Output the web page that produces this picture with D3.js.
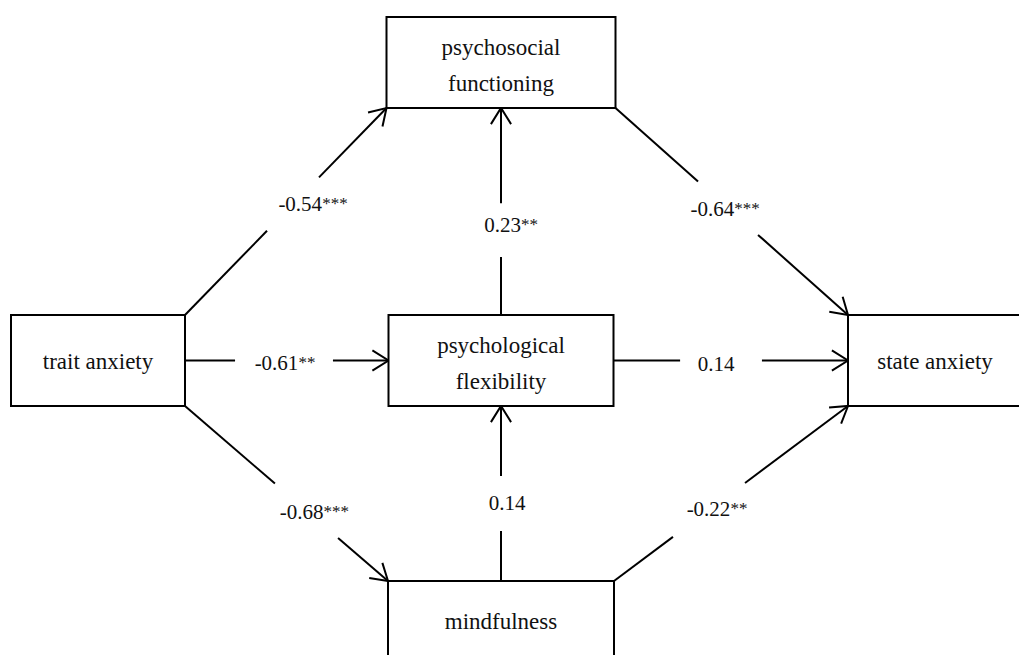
<!DOCTYPE html>
<html>
<head>
<meta charset="utf-8">
<script src="https://cdn.jsdelivr.net/npm/d3@7"></script>
<style>
	body { margin: 0; background: #fff; }
	#chart { width: 1019px; height: 655px; }
	.box { fill: #fff; stroke: #000; stroke-width: 2px; }
	.edge { stroke: #000; stroke-width: 2px; fill: none; stroke-linecap: butt; }
	.nodeLabel { font-family: "Liberation Serif", "Times New Roman", serif; font-size: 23px; fill: #111; }
	.coef { font-family: "Liberation Serif", "Times New Roman", serif; font-size: 21px; fill: #111; }
	.stars { font-size: 17px; }
</style>
</head>
<body>
<div id="chart"></div>
<script>

// model variables
var nodeIds = ["trait", "psychosocial", "flexibility", "state", "mindfulness"];
var nodeLines = [
	["trait anxiety"],
	["psychosocial", "functioning"],
	["psychological", "flexibility"],
	["state anxiety"],
	["mindfulness"]
];

// paths (standardised coefficients)
var edgeFrom = ["trait", "flexibility", "psychosocial", "trait", "flexibility", "trait", "mindfulness", "mindfulness"];
var edgeTo = ["psychosocial", "psychosocial", "state", "flexibility", "state", "mindfulness", "flexibility", "state"];
var edgeCoef = [-0.54, 0.23, -0.64, -0.61, 0.14, -0.68, 0.14, -0.22];
var edgeSig = ["***", "**", "***", "**", "", "***", "", "**"];

var columns = ["left", "mid", "right"];
var rows = ["top", "middle", "bottom"];

var totalWidth = 1019;
var totalHeight = 655;

// layout of the diagram (kept apart from the model values)
var nodeLayout = {
	trait: { col: "left", row: "middle", w: 174, h: 91 },
	psychosocial: { col: "mid", row: "top", w: 229, h: 91 },
	flexibility: { col: "mid", row: "middle", w: 225, h: 91 },
	state: { col: "right", row: "middle", w: 174, h: 91 },
	mindfulness: { col: "mid", row: "bottom", w: 226, h: 80 }
};

// anchors on the boxes, the gap around the label (fractions along the path) and label nudge
var edgeLayout = [
	{ from: "ne", to: "sw", gap: [0.407, 0.665], dx: 20, dy: 7 },
	{ from: "n", to: "s", gap: [0.28, 0.54], dx: 10, dy: 2 },
	{ from: "se", to: "nw", gap: [0.355, 0.613], dx: -3, dy: 8 },
	{ from: "e", to: "w", gap: [0.246, 0.727], dx: 1, dy: 9 },
	{ from: "e", to: "w", gap: [0.284, 0.633], dx: -5, dy: 10 },
	{ from: "se", to: "nw", gap: [0.443, 0.754], dx: 8, dy: 8 },
	{ from: "n", to: "s", gap: [0.286, 0.6], dx: 6, dy: 7 },
	{ from: "ne", to: "sw", gap: [0.252, 0.56], dx: 8, dy: 6 }
];

var xScale = d3.scaleOrdinal().domain(columns).range([98, 501, 935]);
var yScale = d3.scaleOrdinal().domain(rows).range([62.5, 360.5, 621]);

// plain hyphen for negatives, like the original figure
var formatCoef = d3.formatLocale({
	decimal: ".", thousands: ",", grouping: [3], currency: ["", ""], minus: "-"
}).format(".2f");

var nodes = nodeIds.map(function (id, i) {
	var l = nodeLayout[id];
	var cx = xScale(l.col), cy = yScale(l.row);
	return {
		id: id,
		lines: nodeLines[i],
		cx: cx, cy: cy,
		x0: cx - l.w / 2, x1: cx + l.w / 2,
		y0: (id === "mindfulness") ? cy - 40 : cy - l.h / 2,
		w: l.w, h: l.h
	};
});
var nodeById = {};
nodes.forEach(function (n) { nodeById[n.id] = n; });

function anchor(n, a) {
	var x = n.cx, y = n.y0 + n.h / 2;
	if (a.indexOf("n") > -1) y = n.y0;
	if (a.indexOf("s") > -1) y = n.y0 + n.h;
	if (a.indexOf("w") > -1) x = n.x0;
	if (a.indexOf("e") > -1) x = n.x1;
	return [x, y];
}

var edges = edgeFrom.map(function (f, i) {
	var l = edgeLayout[i];
	return {
		p0: anchor(nodeById[f], l.from),
		p1: anchor(nodeById[edgeTo[i]], l.to),
		gap: l.gap,
		dx: l.dx, dy: l.dy,
		value: formatCoef(edgeCoef[i]),
		sig: edgeSig[i]
	};
});

var svg = d3.select("#chart").append("svg")
	.attr("width", totalWidth)
	.attr("height", totalHeight);

function lerp(p0, p1, t) {
	return [p0[0] + (p1[0] - p0[0]) * t, p0[1] + (p1[1] - p0[1]) * t];
}

var line = d3.line();
var edgeGroup = svg.append("g").attr("id", "edges");

edges.forEach(function (e) {
	var a = lerp(e.p0, e.p1, e.gap[0]);
	var b = lerp(e.p0, e.p1, e.gap[1]);

	edgeGroup.append("path").attr("class", "edge").attr("d", line([e.p0, a]));
	edgeGroup.append("path").attr("class", "edge").attr("d", line([b, e.p1]));

	// open arrow head
	var ang = Math.atan2(e.p0[1] - e.p1[1], e.p0[0] - e.p1[0]);
	var len = 19, spread = 32 * Math.PI / 180;
	var h1 = [e.p1[0] + len * Math.cos(ang - spread), e.p1[1] + len * Math.sin(ang - spread)];
	var h2 = [e.p1[0] + len * Math.cos(ang + spread), e.p1[1] + len * Math.sin(ang + spread)];
	edgeGroup.append("path").attr("class", "edge")
		.attr("stroke-linejoin", "miter")
		.attr("d", line([h1, e.p1, h2]));

	var m = lerp(e.p0, e.p1, (e.gap[0] + e.gap[1]) / 2);
	var t = edgeGroup.append("text")
		.attr("class", "coef")
		.attr("x", m[0] + e.dx)
		.attr("y", m[1] + e.dy)
		.attr("text-anchor", "middle");
	t.append("tspan").text(e.value);
	if (e.sig) {
		t.append("tspan").attr("class", "stars").attr("dy", -2).text(e.sig);
	}
});

var nodeGroup = svg.append("g").attr("id", "nodes")
	.selectAll("g")
	.data(nodes)
	.enter()
	.append("g");

nodeGroup.append("rect")
	.attr("class", "box")
	.attr("x", function (d) { return d.x0; })
	.attr("y", function (d) { return d.y0; })
	.attr("width", function (d) { return d.w; })
	.attr("height", function (d) { return d.h; });

nodeGroup.each(function (d) {
	var g = d3.select(this);
	var lh = 36;
	var top = d.cy - (d.lines.length - 1) * lh / 2;
	var shift = d.lines.length > 1 ? 10 : 8;
	d.lines.forEach(function (t, i) {
		g.append("text")
			.attr("class", "nodeLabel")
			.attr("x", d.cx)
			.attr("y", top + i * lh + shift)
			.attr("text-anchor", "middle")
			.text(t);
	});
});

</script>
</body>
</html>
